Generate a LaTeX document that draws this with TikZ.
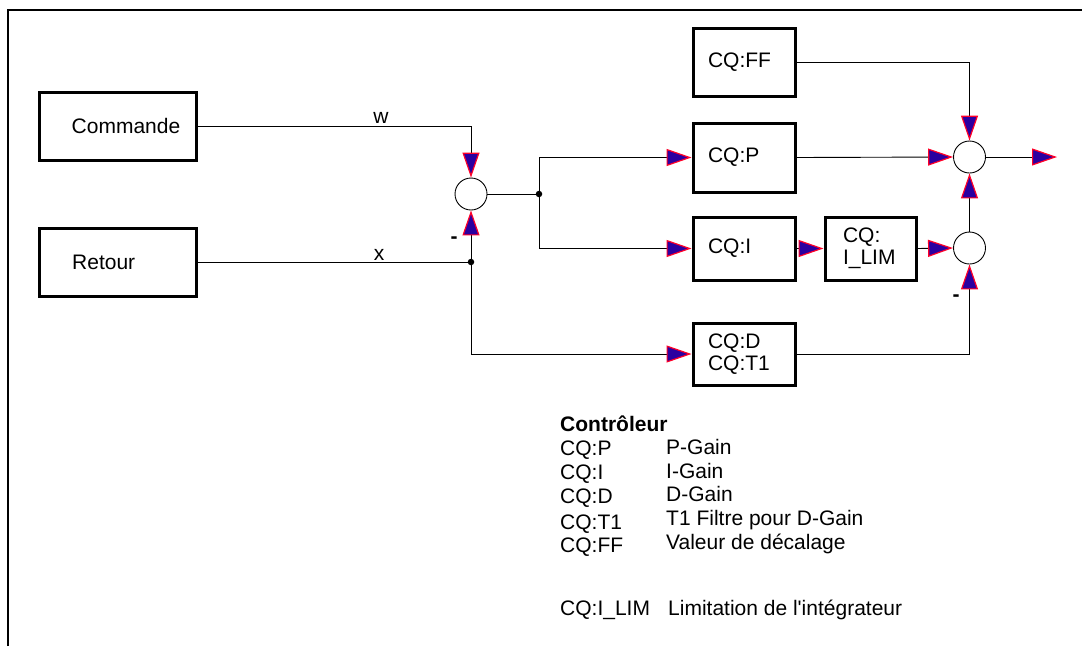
\documentclass[tikz,border=0pt]{standalone}
\usepackage{fontspec}
\setmainfont{Liberation Sans}[Ligatures=TeXOff]
\usetikzlibrary{arrows.meta}
\definecolor{tipblue}{RGB}{43,0,160}
\definecolor{tipred}{RGB}{255,0,40}
\begin{document}
\begin{tikzpicture}[x=1pt,y=-1pt,
  every node/.style={font=\fontsize{21}{22}\selectfont},
  conn/.style={line width=0.9pt, draw=black},
  tip/.style={-{Triangle[length=25pt,width=17pt,color=tipred,fill=tipblue,line width=1.2pt]}},
  bigbox/.style={draw, line width=3pt, minimum width=157pt, minimum height=68pt, inner sep=0pt},
  lbl/.style={anchor=west, inner sep=0pt, xshift=34pt},
  smallbox/.style={draw, line width=3pt, inner xsep=15pt, inner ysep=0pt, align=left, text width=72pt},
  sumc/.style={circle, draw, line width=0.9pt, minimum size=32pt, inner sep=0pt},
  dot/.style={circle, fill=black, inner sep=0pt, minimum size=6.5pt},
  minus/.style={anchor=base, inner sep=0pt, font=\fontsize{21}{22}\selectfont\bfseries},
  legend/.style={anchor=base west, inner sep=0pt}
]
\useasboundingbox (0,0) rectangle (1082,646);
% frame
\draw[line width=1.8pt] (8,646) -- (8,10) -- (1082,10);

% blocks
\node[bigbox, label={[lbl]west:Commande}] (cmd) at (117.5,126) {};
\node[bigbox, label={[lbl]west:Retour}] (ret) at (118,262) {};
\node[smallbox, minimum height=68pt] (ff) at (744,62) {CQ:FF};
\node[smallbox, minimum height=69pt] (p) at (744,157.5) {CQ:P};
\node[smallbox, minimum height=63pt] (i) at (744,248.5) {CQ:I};
\node[smallbox, minimum height=63pt, inner xsep=18pt, text width=55pt] (ilim) at (870.5,248.5) {CQ:\\I\_LIM};
\node[smallbox, minimum height=62pt] (d) at (744,354) {CQ:D\\CQ:T1};

% summing points
\node[sumc] (s1) at (471,194) {};
\node[sumc] (s2) at (969.5,157) {};
\node[sumc] (s3) at (969.5,248) {};

% junctions
\node[dot] (j1) at (539,194) {};
\node[dot] (j2) at (471,262) {};
\coordinate (out) at (1057,157);

% connectors
\draw[conn,tip] (cmd.east) -| (s1.north);
\draw[conn] (ret.east) -- (j2.center);
\draw[conn,tip] (j2.center) -- (s1.south);
\draw[conn,tip] (j2.center) |- (d.west);
\draw[conn] (s1.east) -- (j1.center);
\draw[conn,tip] (j1.center) |- (p.west);
\draw[conn,tip] (j1.center) |- (i.west);
\draw[conn,tip] (ff.east) -| (s2.north);
\draw[conn,tip] (p.east) -- (s2.west);
\draw[conn,tip] (i.east) -- (ilim.west);
\draw[conn,tip] (ilim.east) -- (s3.west);
\draw[conn,tip] (s3.north) -- (s2.south);
\draw[conn,tip] (d.east) -| (s3.south);
\draw[conn,tip] (s2.east) -- (out);

% signal labels
\node[anchor=base, inner sep=0pt] (lw) at (381,123) {w};
\node[anchor=base, inner sep=0pt] (lx) at (379,260) {x};
\node[minus] (m1) at (454,243) {-};
\node[minus] (m2) at (956,301) {-};

% legend
\node[legend, font=\fontsize{21}{22}\selectfont\bfseries] (lt) at (560,431) {Contrôleur};
\node[legend] (l1) at (560,455) {CQ:P};
\node[legend] (l2) at (560,479) {CQ:I};
\node[legend] (l3) at (560,503) {CQ:D};
\node[legend] (l4) at (560,529) {CQ:T1};
\node[legend] (l5) at (560,552) {CQ:FF};
\node[legend] (r1) at (666,454) {P-Gain};
\node[legend] (r2) at (666,478) {I-Gain};
\node[legend] (r3) at (666,501) {D-Gain};
\node[legend] (r4) at (666,525) {T1 Filtre pour D-Gain};
\node[legend] (r5) at (666,549) {Valeur de décalage};
\node[legend] (l6) at (560,615) {CQ:I\_LIM};
\node[legend] (r6) at (668,615) {Limitation de l'intégrateur};
\end{tikzpicture}
\end{document}
